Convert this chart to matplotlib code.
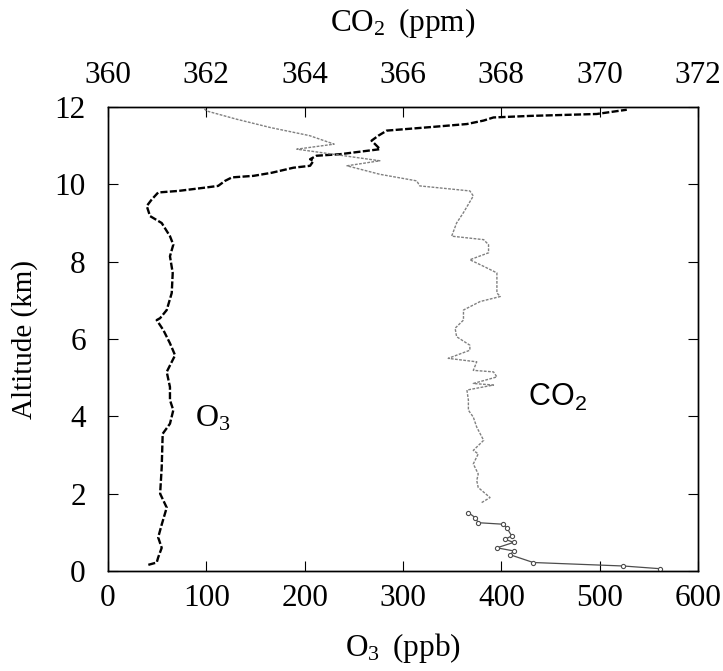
import matplotlib
matplotlib.use("Agg")
import matplotlib.pyplot as plt

plt.rcParams['font.family'] = ['Liberation Serif', 'DejaVu Serif']
plt.rcParams['mathtext.default'] = 'regular'

# O3 profile (ppb) vs altitude (km)
o3_alt = [0.16, 0.22, 0.35, 0.6, 0.87, 1.2, 1.64, 2.0, 2.68, 3.55, 3.81, 4.16, 4.42,
          4.76, 5.15, 5.58, 5.89, 6.23, 6.49, 6.54, 6.75, 7.19, 7.71, 8.14, 8.44, 8.66,
          9.0, 9.18, 9.44, 9.61, 9.79, 9.83, 9.91, 9.96, 10.09, 10.18, 10.22, 10.3,
          10.43, 10.48, 10.61, 10.65, 10.74, 10.78, 10.91, 11.13, 11.26, 11.39, 11.48,
          11.56, 11.65, 11.73, 11.77, 11.82, 11.93]
o3_ppb = [41, 49.5, 51, 54.6, 51, 54.6, 59.7, 53, 54.6, 55.6, 63, 66.4, 63,
          63, 59.7, 68.2, 63, 56.3, 49.5, 53, 59.7, 64.8, 65.8, 63, 66.4, 63,
          54.6, 42.7, 39.4, 44.5, 51, 71.5, 97, 112, 119, 126, 148, 166.5,
          188.5, 205.5, 209, 205.5, 212, 236, 276.7, 268, 275, 283.5, 327.5,
          365, 382, 392, 429, 497, 527.6]

# CO2 profile (ppm), lowest part (open circles)
co2_alt_low = [0.06, 0.13, 0.22, 0.42, 0.52, 0.60, 0.74, 0.82, 0.91, 1.12, 1.21,
               1.25, 1.38, 1.51]
co2_ppm_low = [371.23, 370.48, 368.65, 368.18, 368.25, 367.91, 368.25, 368.08,
               368.21, 368.11, 368.04, 367.53, 367.47, 367.33]

# CO2 profile (ppm), rest of the ascent
co2_alt = [1.77, 1.90, 2.16, 2.34, 2.51, 2.77, 3.03, 3.12, 3.38, 3.72, 3.98, 4.16,
           4.42, 4.68, 4.81, 4.85, 5.02, 5.15, 5.19, 5.41, 5.50, 5.71, 5.84, 6.06,
           6.28, 6.49, 6.75, 6.97, 7.10, 7.19, 7.71, 7.88, 8.05, 8.23, 8.44, 8.57,
           8.66, 9.00, 9.27, 9.70, 9.83, 9.96, 10.09, 10.26, 10.48, 10.61, 10.91,
           11.04, 11.26, 11.47, 11.69, 11.90, 11.97]
co2_ppm = [367.6, 367.77, 367.53, 367.5, 367.53, 367.43, 367.53, 367.43, 367.64,
           367.5, 367.43, 367.33, 367.33, 367.3, 367.84, 367.43, 367.91, 367.84,
           367.43, 367.5, 366.92, 367.36, 367.36, 367.09, 367.06, 367.23, 367.23,
           367.57, 367.98, 367.91, 367.91, 367.64, 367.36, 367.74, 367.74, 367.64,
           366.99, 367.09, 367.23, 367.43, 367.36, 366.34, 366.28, 365.53, 364.86,
           365.53, 363.84, 364.6, 364.1, 363.3, 362.6, 362.0, 361.95]

o3_ticks = [0, 100, 200, 300, 400, 500, 600]
co2_ticks = [360, 362, 364, 366, 368, 370, 372]
alt_ticks = [0, 2, 4, 6, 8, 10, 12]

fs = 22.5

fig = plt.figure(figsize=(7.23, 6.71), dpi=100)
ax = fig.add_axes([0.1494, 0.149, 0.816, 0.6915])

ax.plot(o3_ppb, o3_alt, color='black', lw=1.7, ls=(0, (3, 1)))
ax.set_xlim(0, 600)
ax.set_ylim(0, 12)
ax.set_xticks(o3_ticks)
ax.set_yticks(alt_ticks)
ax.tick_params(axis='x', direction='in', length=7, labelsize=fs, pad=9, top=False)
ax.tick_params(axis='y', direction='in', length=7, labelsize=fs, pad=16, right=True)
ax.set_xlabel('O$_3\\,$ (ppb)', fontsize=fs, labelpad=13)
ax.set_ylabel('Altitude (km)', fontsize=21, labelpad=12)

ax2 = ax.twiny()
ax2.plot(co2_ppm, co2_alt, color='0.5', lw=1.0, ls=(0, (2, 1)))
ax2.plot(co2_ppm_low, co2_alt_low, color='0.3', lw=0.9, marker='o', ms=3,
         mfc='white', mew=0.8)
ax2.set_xlim(360, 372)
ax2.set_xticks(co2_ticks)
ax2.tick_params(axis='x', direction='in', length=7, labelsize=fs, pad=12)
ax2.set_xlabel('CO$_2\\,$ (ppm)', fontsize=fs, labelpad=22)

for a in (ax, ax2):
    for s in a.spines.values():
        s.set_linewidth(1.0)

ax.text(88, 3.95, 'O$_3$', fontsize=23, ha='left', va='center')
ax.text(427, 4.5, 'CO$_2$', fontsize=22, ha='left', va='center',
        family=['Liberation Sans', 'DejaVu Sans'])

fig.savefig('out.png', dpi=100)
